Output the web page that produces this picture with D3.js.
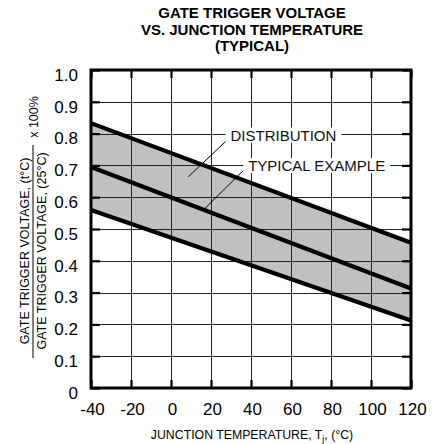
<!DOCTYPE html>
<html>
<head>
<meta charset="utf-8">
<script src="https://cdn.jsdelivr.net/npm/d3@7"></script>
<style>
  html, body { margin: 0; padding: 0; background: #fff; }
  svg { display: block; font-family: "Liberation Sans", Arial, Helvetica, sans-serif; }
</style>
</head>
<body>
<svg id="chart" width="447" height="444"></svg>
<script>
// ---- data ----
const temps = [-40, 120];                 // junction temperature endpoints (°C)
const upperBound = [0.833, 0.457];        // distribution upper limit
const typical = [0.695, 0.313];           // typical example
const lowerBound = [0.560, 0.212];        // distribution lower limit
const xTicks = [-40, -20, 0, 20, 40, 60, 80, 100, 120];
const xTickLabels = ["-40", "-20", "0", "20", "40", "60", "80", "100", "120"];
const yTicks = [0, 0.1, 0.2, 0.3, 0.4, 0.5, 0.6, 0.7, 0.8, 0.9, 1.0];
const yTickLabels = ["0", "0.1", "0.2", "0.3", "0.4", "0.5", "0.6", "0.7", "0.8", "0.9", "1.0"];
const titleLines = ["GATE TRIGGER VOLTAGE", "VS. JUNCTION TEMPERATURE", "(TYPICAL)"];

const svg = d3.select("#chart");
const L = 91, R = 411, T = 70, B = 388;
const x = d3.scaleLinear().domain([-40, 120]).range([L, R]);
const y = d3.scaleLinear().domain([0, 1]).range([B, T]);

// band fill
const band = temps.map((t, i) => ({t, hi: upperBound[i], lo: lowerBound[i]}));
svg.append("path")
  .datum(band)
  .attr("fill", "#c0c0c0")
  .attr("d", d3.area().x(d => x(d.t)).y0(d => y(d.lo)).y1(d => y(d.hi)));

// grid
const grid = svg.append("g").attr("stroke", "#222").attr("stroke-width", 1);
grid.selectAll("line.v").data(xTicks.slice(1, -1)).join("line")
  .attr("x1", d => Math.round(x(d)) + 0.5).attr("x2", d => Math.round(x(d)) + 0.5)
  .attr("y1", T).attr("y2", B);
grid.selectAll("line.h").data(yTicks.slice(1, -1)).join("line")
  .attr("y1", d => Math.round(y(d)) + 0.5).attr("y2", d => Math.round(y(d)) + 0.5)
  .attr("x1", L).attr("x2", R);

// axes (inward ticks)
const fmtX = d => xTickLabels[xTicks.indexOf(d)];
const fmtY = d => yTickLabels[yTicks.findIndex(v => Math.abs(v - d) < 1e-9)];
const ax = svg.append("g").attr("transform", `translate(0,${B})`)
  .call(d3.axisBottom(x).tickValues(xTicks).tickFormat(fmtX).tickSize(-8).tickPadding(15));
const axTop = svg.append("g").attr("transform", `translate(0,${T})`)
  .call(d3.axisTop(x).tickValues(xTicks).tickFormat("").tickSize(-8));
const ay = svg.append("g").attr("transform", `translate(${L},0)`)
  .call(d3.axisLeft(y).tickValues(yTicks).tickFormat(fmtY).tickSize(-9).tickPadding(13));
const ayR = svg.append("g").attr("transform", `translate(${R},0)`)
  .call(d3.axisRight(y).tickValues(yTicks).tickFormat("").tickSize(-9));
[ax, axTop, ay, ayR].forEach(g => {
  g.select(".domain").remove();
  g.selectAll(".tick line").attr("stroke", "#000").attr("stroke-width", 2.2);
  g.selectAll(".tick text").attr("fill", "#000").attr("font-size", 17)
    .attr("font-family", "Liberation Sans, Arial, sans-serif");
});
ay.selectAll(".tick text").attr("dy", "0.6em");
ax.selectAll(".tick text").attr("dx", "1");

// annotations
const ann = svg.append("g");
function label(txt, tx, ty, lx1, ly1, lx2, ly2) {
  ann.append("line").attr("x1", x(lx1)).attr("y1", y(ly1)).attr("x2", x(lx2)).attr("y2", y(ly2))
    .attr("stroke", "#000").attr("stroke-width", 1);
  const t = ann.append("text").attr("x", x(tx)).attr("y", y(ty)).attr("font-size", 15)
    .attr("fill", "#111").text(txt);
  const bb = t.node().getBBox();
  ann.insert("rect", function() { return t.node(); })
    .attr("x", bb.x - 5).attr("y", bb.y + 1).attr("width", bb.width + 10).attr("height", bb.height - 2)
    .attr("fill", "#fff");
}
label("DISTRIBUTION", 29.75, 0.778, 29.5, 0.788, 8.6, 0.664);
label("TYPICAL EXAMPLE", 38.6, 0.682, 38.3, 0.697, 17, 0.565);

// data lines
[upperBound, typical, lowerBound].forEach(vals => {
  svg.append("path")
    .datum(temps.map((t, i) => [t, vals[i]]))
    .attr("fill", "none").attr("stroke", "#000").attr("stroke-width", 4.2)
    .attr("d", d3.line().x(d => x(d[0])).y(d => y(d[1])));
});

// border
svg.append("rect").attr("x", L).attr("y", T).attr("width", R - L).attr("height", B - T)
  .attr("fill", "none").attr("stroke", "#000").attr("stroke-width", 3);

// title
svg.append("text").attr("text-anchor", "middle").attr("font-weight", "bold").attr("font-size", 15)
  .selectAll("tspan").data(titleLines).join("tspan")
  .attr("x", 252).attr("y", (d, i) => 18 + i * 16.5).text(d => d);

// x axis title
const xt = svg.append("text").attr("x", 252).attr("y", 439).attr("text-anchor", "middle").attr("font-size", 12.3);
xt.append("tspan").text("JUNCTION TEMPERATURE, T");
xt.append("tspan").attr("font-size", 9).attr("dy", 3).text("j");
xt.append("tspan").attr("dy", -3).text(", (°C)");

// y axis title (fraction)
const yl = svg.append("g");
yl.append("text").attr("transform", "translate(29,251) rotate(-90)").attr("text-anchor", "middle")
  .attr("font-size", 12.5).text("GATE TRIGGER VOLTAGE, (t°C)");
yl.append("text").attr("transform", "translate(45.5,251) rotate(-90)").attr("text-anchor", "middle")
  .attr("font-size", 12.5).text("GATE TRIGGER VOLTAGE, (25°C)");
yl.append("line").attr("x1", 33).attr("x2", 33).attr("y1", 145).attr("y2", 358)
  .attr("stroke", "#000").attr("stroke-width", 1);
yl.append("text").attr("transform", "translate(37.5,117) rotate(-90)").attr("text-anchor", "middle")
  .attr("font-size", 12.5).text("x 100%");
</script>
</body>
</html>
